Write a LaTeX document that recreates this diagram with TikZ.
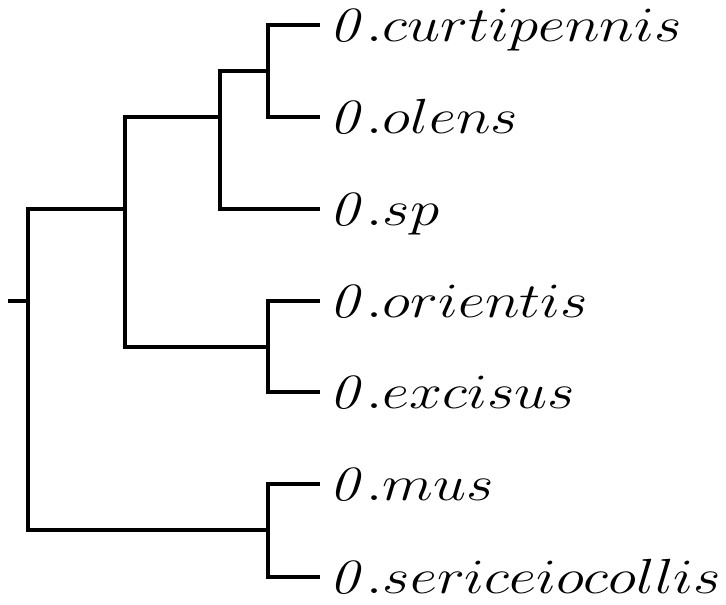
\RequirePackage{fix-cm}
\documentclass[tikz,border=0pt]{standalone}
\usepackage{graphicx}
\tikzset{
  br/.style={line width=3.2pt, line join=miter, line cap=rect},
  lab/.style={anchor=base west, inner sep=0pt, font=\fontsize{37}{40}\selectfont},
}
\newcommand{\spname}[1]{\scalebox{1.2}[1]{$\mathit{0}.#1$}}
\begin{document}
\begin{tikzpicture}[x=0.75pt,y=-0.75pt]
\useasboundingbox (0,0) rectangle (726,605);
% leaves (line ends)
\coordinate (l1) at (318,25);
\coordinate (l2) at (318,117);
\coordinate (l3) at (318,209);
\coordinate (l4) at (318,301);
\coordinate (l5) at (318,392);
\coordinate (l6) at (318,484);
\coordinate (l7) at (318,577);
% internal nodes
\coordinate (A) at (268,71);
\coordinate (B) at (220,117);
\coordinate (C) at (268,347);
\coordinate (D) at (125,209);
\coordinate (E) at (268,530);
\coordinate (F) at (28,301);
\coordinate (R) at (10,301);
% branches
\draw[br] (A) |- (l1);
\draw[br] (A) |- (l2);
\draw[br] (B) |- (A);
\draw[br] (B) |- (l3);
\draw[br] (C) |- (l4);
\draw[br] (C) |- (l5);
\draw[br] (D) |- (B);
\draw[br] (D) |- (C);
\draw[br] (E) |- (l6);
\draw[br] (E) |- (l7);
\draw[br] (F) |- (D);
\draw[br] (F) |- (E);
\draw[br] (R) -- (F);
% labels
\node[lab] (t1) at (329,42) {\spname{curtipennis}};
\node[lab] (t2) at (329,134) {\spname{olens}};
\node[lab] (t3) at (329,226) {\spname{sp}};
\node[lab] (t4) at (329,318) {\spname{orientis}};
\node[lab] (t5) at (329,409) {\spname{excisus}};
\node[lab] (t6) at (329,501) {\spname{mus}};
\node[lab] (t7) at (329,594) {\spname{sericeiocollis}};
\end{tikzpicture}
\end{document}
